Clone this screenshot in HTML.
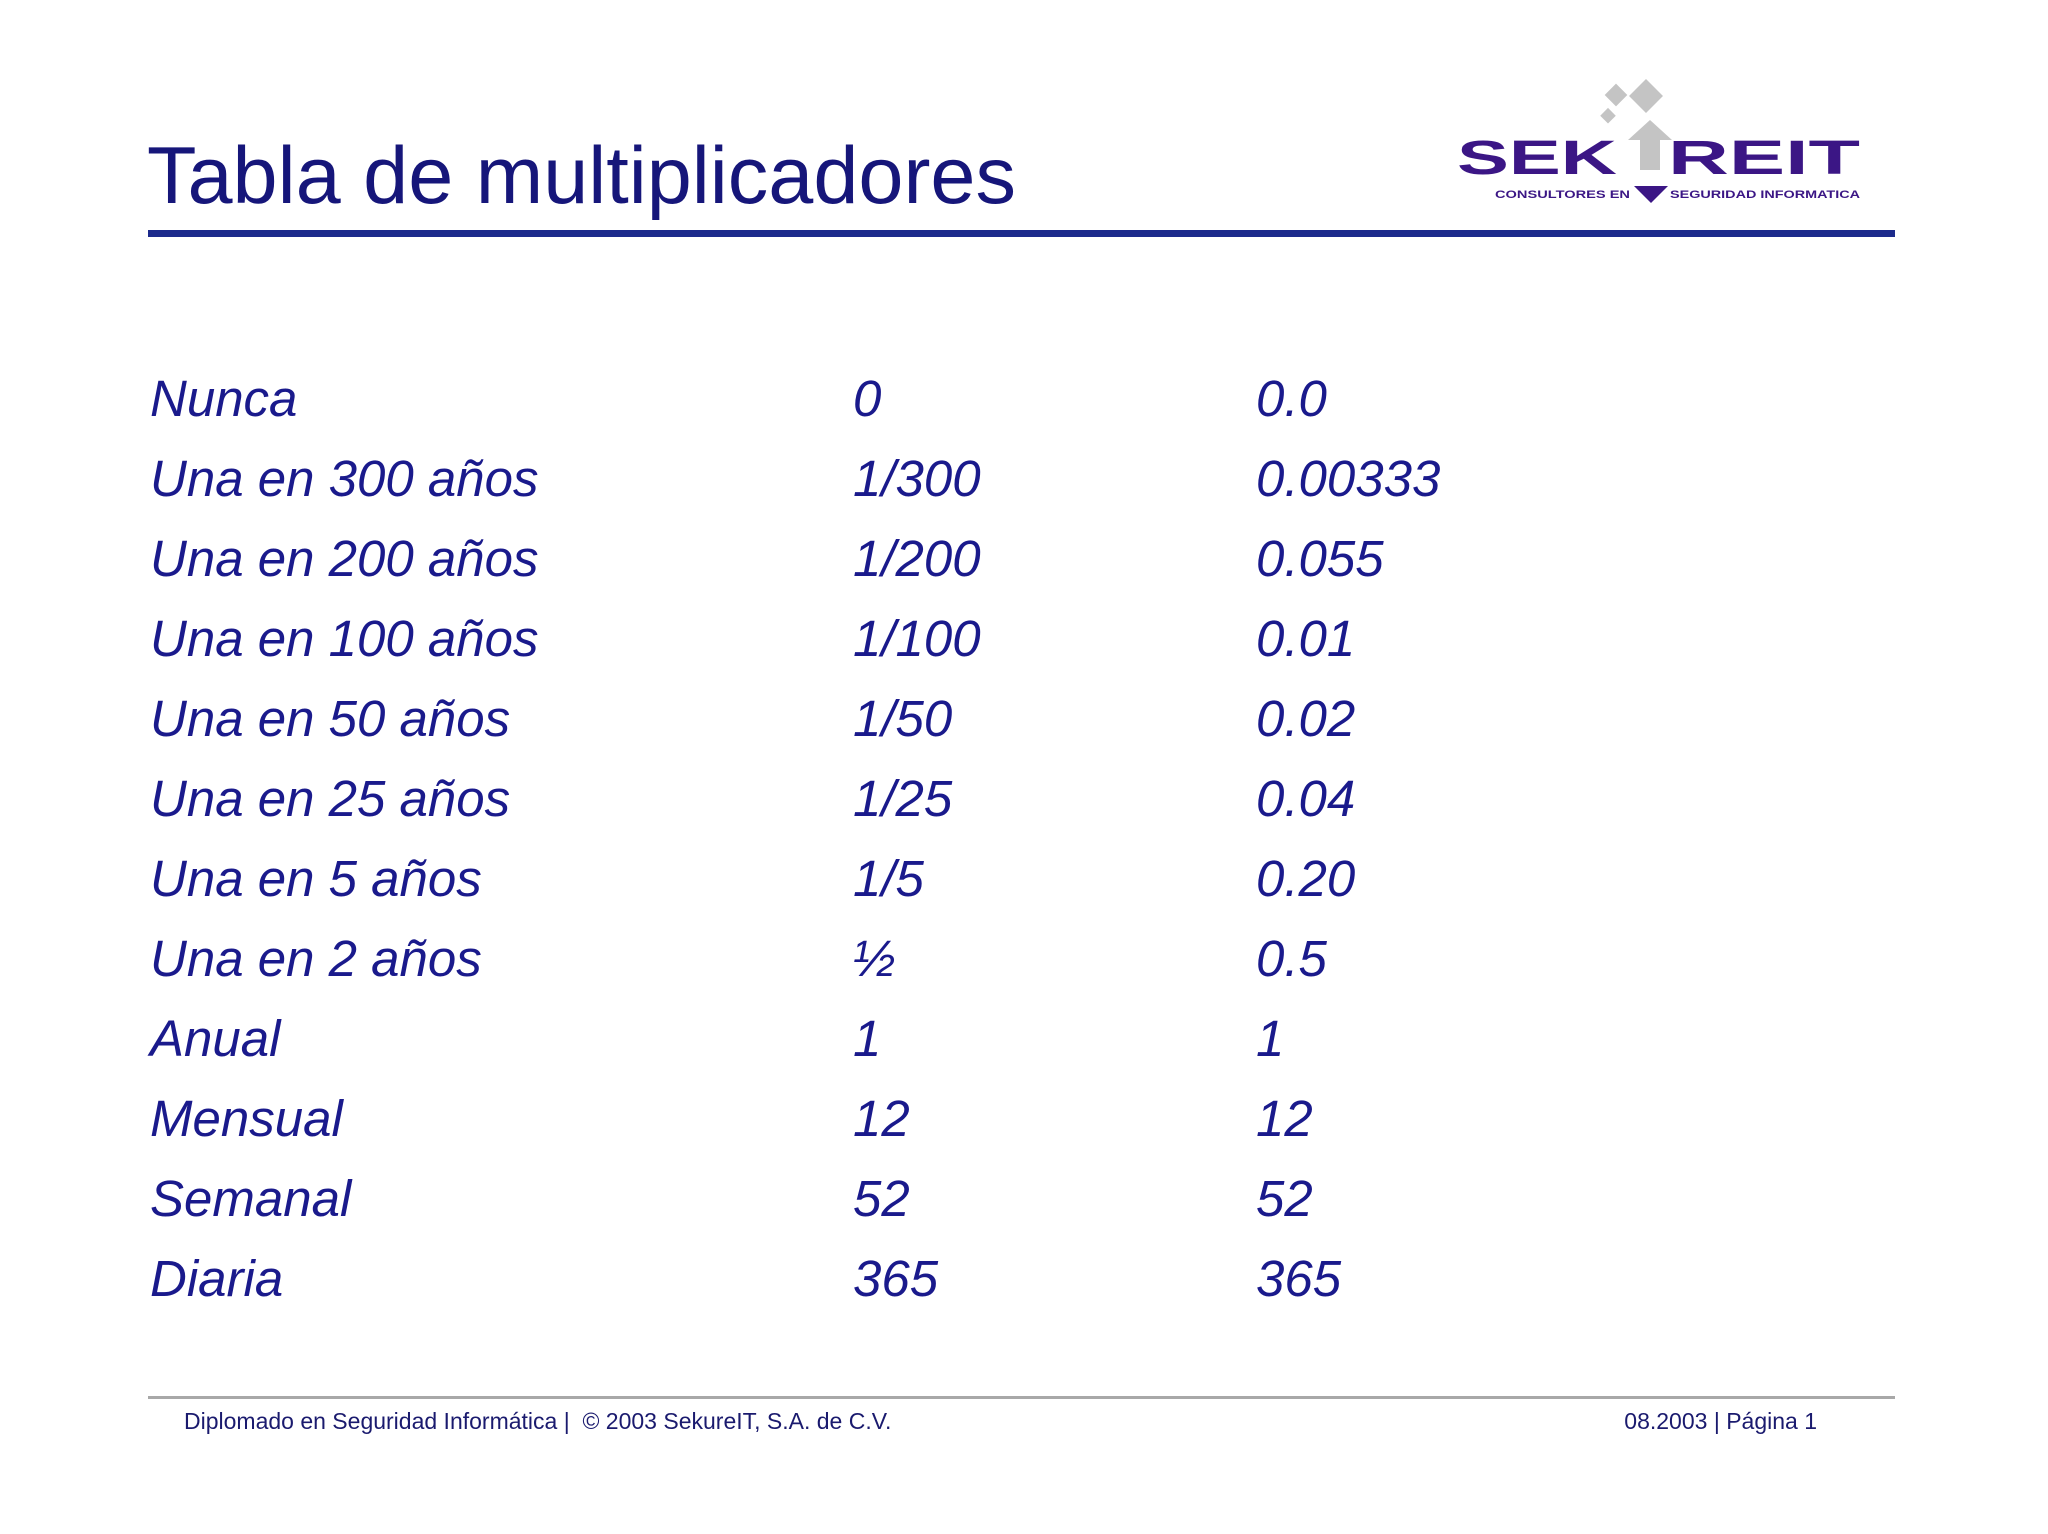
<!DOCTYPE html>
<html><head><meta charset="utf-8"><style>
html,body{margin:0;padding:0;background:#fff;}
body{width:2048px;height:1534px;position:relative;overflow:hidden;font-family:"Liberation Sans",sans-serif;}
.t{position:absolute;white-space:nowrap;}
.row{position:absolute;font-style:italic;font-size:51px;color:#1a1a8c;line-height:1;}
</style></head><body>
<div class="t" style="left:147px;top:136px;font-size:81px;color:#16167a;line-height:1;">Tabla de multiplicadores</div>
<div style="position:absolute;left:148px;top:230px;width:1747px;height:7px;background:#1c2a8c;"></div>
<svg style="position:absolute;left:1440px;top:70px" width="450" height="150" viewBox="1440 70 450 150">
 <g fill="#c4c4c4">
  <rect x="1608" y="87" width="16" height="16" transform="rotate(45 1616 95)"/>
  <rect x="1634" y="84" width="24" height="24" transform="rotate(45 1646 96)"/>
  <rect x="1603" y="110" width="11" height="11" transform="rotate(45 1608 115)"/>
  <polygon points="1650,120 1672,140 1660,140 1660,170 1640,170 1640,140 1628,140"/>
 </g>
 <text x="1457" y="174" font-family="Liberation Sans" font-weight="bold" font-size="48" fill="#3b1685" textLength="160" lengthAdjust="spacingAndGlyphs">SEK</text>
 <text x="1668" y="174" font-family="Liberation Sans" font-weight="bold" font-size="48" fill="#3b1685" textLength="192" lengthAdjust="spacingAndGlyphs">REIT</text>
 <polygon points="1634,186 1668,186 1651,203" fill="#3b1685"/>
 <text x="1495" y="198" font-family="Liberation Sans" font-weight="bold" font-size="11" fill="#3b1685" textLength="135" lengthAdjust="spacingAndGlyphs">CONSULTORES EN</text>
 <text x="1670" y="198" font-family="Liberation Sans" font-weight="bold" font-size="11" fill="#3b1685" textLength="190" lengthAdjust="spacingAndGlyphs">SEGURIDAD INFORMATICA</text>
</svg>
<div id="table"></div>
<div style="position:absolute;left:148px;top:1396px;width:1747px;height:3px;background:#a8a8a8;"></div>
<div class="t" style="left:184px;top:1408px;font-size:23px;color:#1a1a6e;">Diplomado en Seguridad Informática |&nbsp; © 2003 SekureIT, S.A. de C.V.</div>
<div class="t" style="right:231px;top:1408px;font-size:23px;color:#1a1a6e;">08.2003 | Página 1</div>
<script>
const labels=["Nunca","Una en 300 años","Una en 200 años","Una en 100 años","Una en 50 años","Una en 25 años","Una en 5 años","Una en 2 años","Anual","Mensual","Semanal","Diaria"];
const fractions=["0","1/300","1/200","1/100","1/50","1/25","1/5","½","1","12","52","365"];
const decimals=["0.0","0.00333","0.055","0.01","0.02","0.04","0.20","0.5","1","12","52","365"];
const tbl=document.getElementById('table');
labels.forEach((l,i)=>{
  const top=373+i*80;
  [[l,150,'row-label'],[fractions[i],853,'row-fraction'],[decimals[i],1256,'row-decimal']].forEach(c=>{
    const d=document.createElement('div');
    d.className='row';
    d.style.left=c[1]+'px';d.style.top=top+'px';
    d.textContent=c[0];
    
    
    tbl.appendChild(d);
  });
});
</script>
</body></html>
